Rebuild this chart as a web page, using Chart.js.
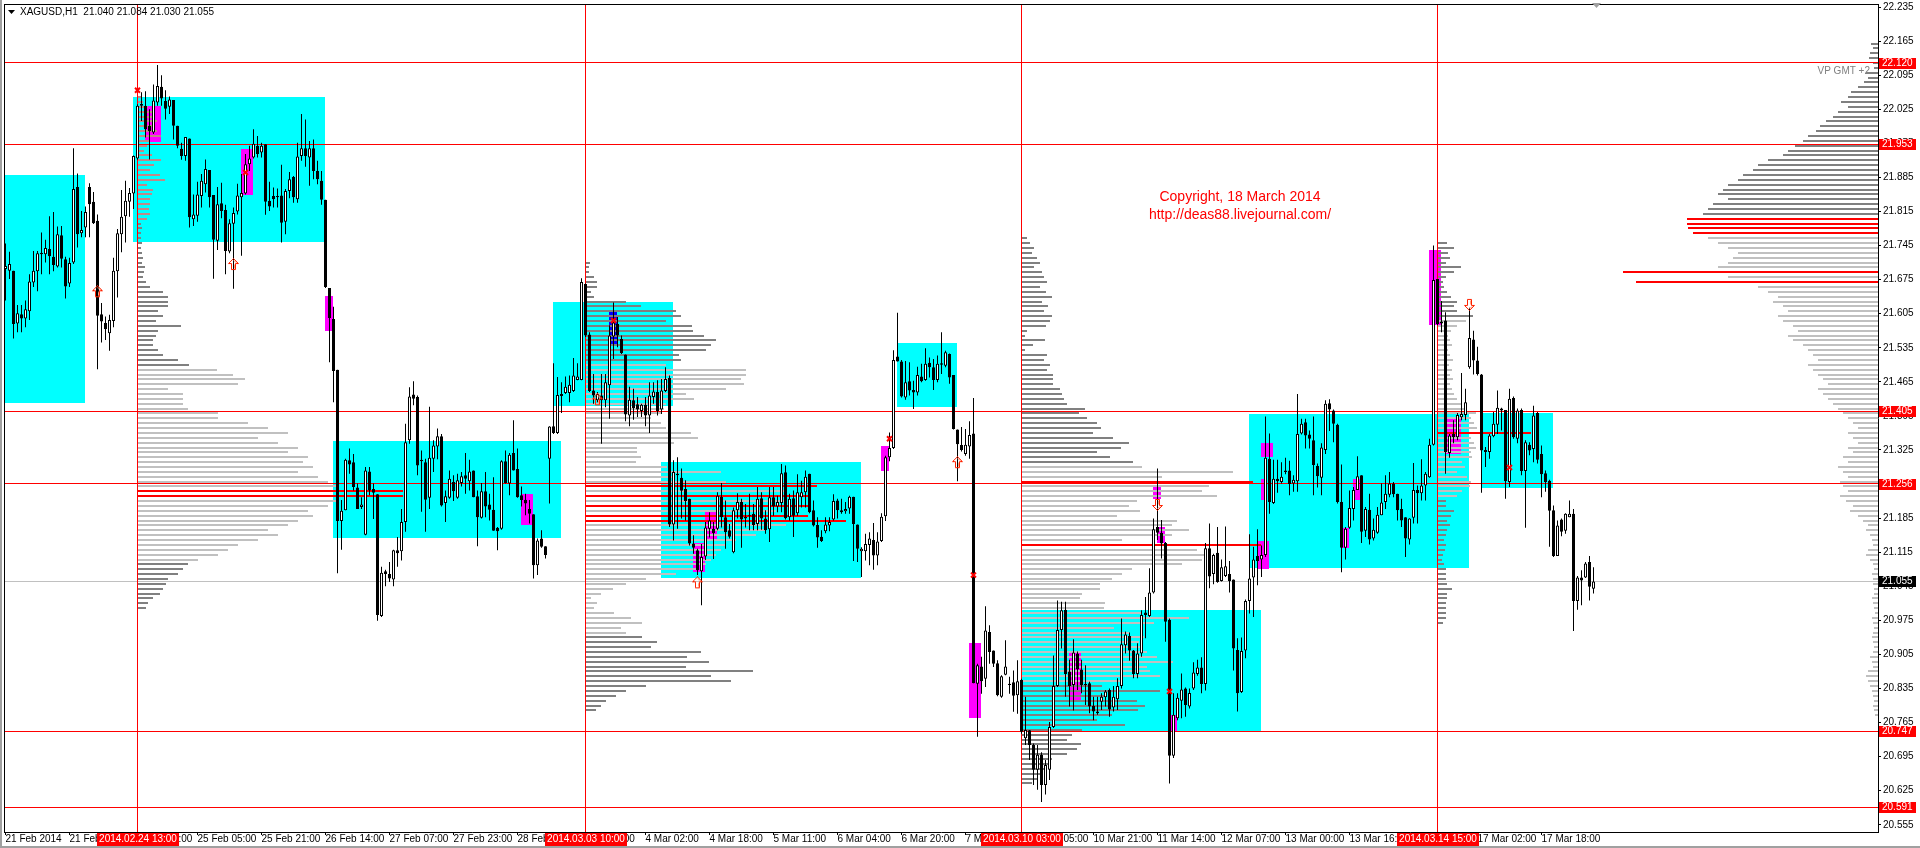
<!DOCTYPE html>
<html>
<head>
<meta charset="utf-8">
<title>XAGUSD,H1</title>
<style>
  html, body { margin: 0; padding: 0; background: #fff; }
  #wrap { width: 1920px; height: 848px; }
</style>
<script src="https://cdn.jsdelivr.net/npm/chart.js@4.4.1/dist/chart.umd.min.js"></script>
</head>
<body>
<div id="wrap"><canvas id="chart" width="1920" height="848"></canvas></div>
<script>
/* ------------------------------------------------------------
   DATA  (XAGUSD H1, 21 Feb - 18 Mar 2014, one entry per bar)
------------------------------------------------------------ */
const opens = [
  21.697,21.693,21.693,21.585,21.604,21.595,21.610,21.669,21.692,21.730,
  21.727,21.738,21.722,21.702,21.766,21.717,21.667,21.710,21.865,21.770,
  21.782,21.865,21.835,21.796,21.604,21.586,21.565,21.590,21.692,21.768,
  21.805,21.835,21.852,21.924,22.032,22.032,21.991,21.977,22.039,22.071,
  22.042,22.030,22.044,21.991,21.944,21.929,21.965,21.799,21.806,21.847,
  21.871,21.900,21.849,21.755,21.832,21.818,21.733,21.790,21.815,21.844,
  21.852,21.912,21.926,21.950,21.936,21.953,21.837,21.847,21.847,21.848,
  21.794,21.857,21.886,21.840,21.929,21.945,21.926,21.945,21.898,21.878,
  21.839,21.658,21.594,21.490,21.179,21.201,21.304,21.300,21.248,21.208,
  21.151,21.281,21.245,21.234,20.984,21.076,21.070,21.059,21.119,21.117,
  21.177,21.345,21.439,21.434,21.305,21.300,21.227,21.307,21.332,21.353,
  21.216,21.227,21.259,21.227,21.257,21.273,21.261,21.283,21.230,21.186,
  21.240,21.213,21.202,21.165,21.163,21.302,21.256,21.319,21.286,21.232,
  21.223,21.204,21.193,21.088,21.143,21.127,21.307,21.374,21.360,21.440,
  21.442,21.442,21.446,21.469,21.469,21.666,21.562,21.447,21.427,21.437,
  21.427,21.458,21.558,21.584,21.553,21.521,21.396,21.427,21.419,21.405,
  21.418,21.396,21.434,21.444,21.408,21.446,21.473,21.172,21.276,21.268,
  21.245,21.225,21.133,21.119,21.076,21.106,21.163,21.163,21.163,21.229,
  21.187,21.160,21.115,21.201,21.218,21.184,21.190,21.194,21.173,21.226,
  21.184,21.162,21.228,21.209,21.216,21.279,21.187,21.226,21.195,21.228,
  21.238,21.276,21.201,21.171,21.147,21.158,21.170,21.182,21.221,21.201,
  21.199,21.205,21.229,21.172,21.117,21.117,21.130,21.140,21.108,21.138,
  21.189,21.310,21.329,21.517,21.507,21.433,21.466,21.448,21.443,21.476,
  21.469,21.504,21.495,21.469,21.503,21.498,21.522,21.479,21.367,21.335,
  21.317,21.332,21.359,20.845,20.880,20.855,20.951,20.913,20.887,20.818,
  20.863,20.845,20.848,20.821,20.853,20.733,20.749,20.719,20.668,20.699,
  20.637,20.668,20.756,20.840,20.955,20.997,20.870,20.842,20.907,20.874,
  20.844,20.846,20.799,20.788,20.808,20.817,20.832,20.796,20.813,20.840,
  20.924,20.943,20.913,20.865,20.907,20.991,20.984,21.032,21.167,21.155,
  21.134,20.976,20.697,20.774,20.810,20.835,20.798,20.835,20.865,20.878,
  20.844,21.123,21.070,21.114,21.056,21.066,21.070,21.059,20.914,20.828,
  20.913,21.015,21.063,21.107,21.100,21.109,21.307,21.216,21.266,21.259,
  21.283,21.283,21.256,21.261,21.359,21.382,21.357,21.345,21.292,21.268,
  21.325,21.421,21.406,21.377,21.218,21.124,21.165,21.204,21.243,21.273,
  21.159,21.202,21.143,21.155,21.191,21.218,21.233,21.256,21.235,21.204,
  21.187,21.141,21.186,21.243,21.236,21.252,21.269,21.336,21.676,21.589,
  21.591,21.319,21.358,21.351,21.392,21.397,21.495,21.552,21.509,21.480,
  21.325,21.321,21.353,21.377,21.410,21.407,21.259,21.432,21.348,21.407,
  21.282,21.336,21.327,21.401,21.317,21.277,21.262,21.201,21.107,21.182,
  21.159,21.187,21.194,21.015,21.063,21.063,21.095,21.040
];
const highs = [
  21.749,21.732,21.693,21.623,21.623,21.632,21.686,21.734,21.734,21.772,
  21.757,21.805,21.814,21.784,21.785,21.722,21.720,21.945,21.893,21.816,
  21.825,21.873,21.855,21.809,21.627,21.599,21.603,21.720,21.779,21.859,
  21.878,21.863,21.930,22.035,22.060,22.062,22.025,22.076,22.116,22.095,
  22.064,22.051,22.044,21.991,21.956,21.968,21.965,21.850,21.876,21.892,
  21.922,21.900,21.849,21.865,21.874,21.829,21.799,21.823,21.872,21.892,
  21.933,21.950,21.984,21.970,21.956,21.953,21.876,21.864,21.862,21.911,
  21.861,21.896,21.888,21.956,22.015,22.004,21.960,21.963,21.919,21.898,
  21.839,21.658,21.619,21.490,21.222,21.307,21.328,21.317,21.256,21.228,
  21.290,21.290,21.256,21.234,21.085,21.079,21.095,21.120,21.146,21.204,
  21.379,21.454,21.466,21.437,21.324,21.307,21.414,21.345,21.369,21.358,
  21.242,21.283,21.273,21.276,21.280,21.319,21.305,21.283,21.242,21.257,
  21.280,21.235,21.269,21.167,21.304,21.324,21.319,21.386,21.328,21.250,
  21.235,21.222,21.193,21.143,21.160,21.127,21.374,21.503,21.475,21.464,
  21.476,21.478,21.514,21.503,21.678,21.667,21.567,21.481,21.444,21.481,
  21.481,21.581,21.628,21.598,21.560,21.521,21.455,21.451,21.434,21.420,
  21.434,21.464,21.464,21.468,21.471,21.495,21.478,21.304,21.310,21.287,
  21.263,21.225,21.150,21.122,21.132,21.177,21.197,21.177,21.238,21.257,
  21.221,21.173,21.207,21.236,21.225,21.214,21.235,21.214,21.249,21.238,
  21.201,21.249,21.249,21.231,21.296,21.293,21.235,21.242,21.275,21.262,
  21.283,21.276,21.221,21.187,21.160,21.187,21.187,21.234,21.225,21.225,
  21.218,21.231,21.229,21.172,21.125,21.153,21.156,21.175,21.156,21.195,
  21.313,21.361,21.530,21.607,21.510,21.508,21.505,21.467,21.496,21.502,
  21.534,21.515,21.512,21.519,21.567,21.529,21.523,21.479,21.367,21.372,
  21.368,21.384,21.432,20.886,20.900,21.004,20.965,20.913,20.893,20.862,
  20.934,20.859,20.872,20.893,20.855,20.818,20.750,20.722,20.719,20.704,
  20.688,20.766,20.903,21.016,21.013,21.013,20.894,20.936,20.911,20.894,
  20.883,20.849,20.818,20.818,20.825,20.832,20.835,20.840,20.856,20.979,
  20.952,20.950,20.914,20.928,20.996,21.023,21.082,21.184,21.287,21.181,
  21.136,20.979,20.825,20.825,20.866,20.837,20.835,20.889,20.894,20.899,
  21.134,21.174,21.112,21.167,21.100,21.168,21.097,21.059,20.938,20.940,
  21.018,21.152,21.126,21.162,21.129,21.394,21.359,21.305,21.305,21.300,
  21.309,21.303,21.273,21.440,21.389,21.389,21.365,21.394,21.297,21.339,
  21.427,21.429,21.408,21.379,21.295,21.167,21.242,21.249,21.312,21.273,
  21.208,21.235,21.184,21.208,21.256,21.273,21.280,21.259,21.235,21.225,
  21.187,21.185,21.298,21.252,21.306,21.280,21.348,21.745,21.676,21.631,
  21.608,21.358,21.386,21.401,21.483,21.451,21.617,21.570,21.537,21.481,
  21.331,21.358,21.403,21.447,21.412,21.407,21.451,21.435,21.410,21.410,
  21.345,21.341,21.416,21.403,21.334,21.283,21.264,21.211,21.180,21.184,
  21.195,21.221,21.204,21.066,21.078,21.095,21.107,21.084
];
const lows = [
  21.632,21.676,21.554,21.567,21.567,21.577,21.592,21.660,21.651,21.686,
  21.710,21.686,21.692,21.700,21.700,21.636,21.660,21.707,21.741,21.762,
  21.762,21.762,21.789,21.491,21.546,21.551,21.529,21.577,21.638,21.731,
  21.751,21.804,21.820,21.921,22.001,21.967,21.922,21.974,22.032,22.032,
  22.004,22.015,21.963,21.945,21.921,21.919,21.782,21.785,21.794,21.823,
  21.854,21.823,21.677,21.736,21.801,21.686,21.729,21.656,21.809,21.724,
  21.850,21.898,21.924,21.926,21.926,21.808,21.816,21.823,21.823,21.751,
  21.768,21.842,21.833,21.833,21.919,21.907,21.868,21.881,21.871,21.829,
  21.658,21.505,21.423,21.072,21.120,21.201,21.276,21.242,21.204,21.204,
  21.150,21.232,21.183,20.974,20.982,21.045,21.054,21.045,21.085,21.098,
  21.157,21.338,21.417,21.273,21.198,21.157,21.204,21.280,21.306,21.209,
  21.177,21.225,21.220,21.225,21.250,21.235,21.242,21.228,21.127,21.184,
  21.187,21.180,21.159,21.119,21.161,21.256,21.232,21.283,21.227,21.209,
  21.191,21.174,21.061,21.068,21.124,21.102,21.215,21.358,21.358,21.401,
  21.440,21.423,21.444,21.468,21.468,21.557,21.444,21.420,21.423,21.338,
  21.413,21.389,21.512,21.536,21.522,21.384,21.374,21.387,21.393,21.393,
  21.374,21.360,21.420,21.396,21.399,21.444,21.167,21.139,21.163,21.184,
  21.180,21.129,21.112,21.068,21.006,21.099,21.145,21.101,21.160,21.166,
  21.122,21.143,21.113,21.184,21.124,21.166,21.160,21.160,21.160,21.161,
  21.153,21.136,21.190,21.197,21.197,21.182,21.180,21.146,21.190,21.207,
  21.207,21.195,21.168,21.124,21.136,21.154,21.158,21.180,21.184,21.194,
  21.194,21.194,21.097,21.095,21.064,21.098,21.088,21.079,21.088,21.136,
  21.179,21.302,21.327,21.507,21.433,21.428,21.437,21.409,21.437,21.464,
  21.467,21.474,21.448,21.464,21.481,21.495,21.461,21.367,21.261,21.322,
  21.313,21.307,20.846,20.736,20.824,20.838,20.886,20.879,20.819,20.816,
  20.862,20.824,20.787,20.783,20.742,20.719,20.688,20.637,20.627,20.602,
  20.617,20.647,20.754,20.838,20.917,20.818,20.798,20.790,20.832,20.825,
  20.801,20.784,20.770,20.781,20.791,20.798,20.777,20.788,20.791,20.835,
  20.907,20.892,20.856,20.856,20.900,20.938,20.982,21.030,21.140,21.102,
  20.931,20.640,20.692,20.770,20.774,20.777,20.794,20.832,20.861,20.825,
  20.831,21.041,21.049,21.052,21.055,21.064,21.032,20.872,20.788,20.826,
  20.897,20.989,20.982,21.047,21.064,21.105,21.194,21.214,21.237,21.256,
  21.275,21.232,21.239,21.239,21.357,21.328,21.328,21.232,21.248,21.232,
  21.317,21.364,21.341,21.215,21.074,21.100,21.163,21.180,21.243,21.134,
  21.146,21.131,21.139,21.153,21.191,21.204,21.228,21.228,21.180,21.167,
  21.105,21.131,21.174,21.174,21.221,21.221,21.268,21.334,21.581,21.567,
  21.276,21.309,21.339,21.345,21.386,21.386,21.492,21.480,21.478,21.237,
  21.290,21.307,21.351,21.358,21.365,21.225,21.249,21.348,21.339,21.273,
  21.165,21.314,21.300,21.297,21.228,21.239,21.126,21.105,21.107,21.148,
  21.153,21.187,20.953,20.997,21.006,21.062,21.016,21.030
];
const closes = [
  21.703,21.707,21.584,21.606,21.595,21.614,21.671,21.693,21.729,21.727,
  21.740,21.723,21.705,21.768,21.718,21.661,21.709,21.861,21.768,21.777,
  21.814,21.830,21.791,21.601,21.589,21.573,21.592,21.693,21.770,21.804,
  21.837,21.853,21.929,22.032,22.036,21.984,21.980,22.043,22.073,22.047,
  22.026,22.045,21.991,21.950,21.929,21.968,21.803,21.809,21.850,21.878,
  21.902,21.844,21.757,21.830,21.816,21.734,21.791,21.812,21.848,21.853,
  21.912,21.924,21.954,21.933,21.950,21.835,21.825,21.840,21.844,21.792,
  21.857,21.881,21.844,21.928,21.945,21.929,21.945,21.898,21.881,21.839,
  21.660,21.596,21.487,21.179,21.200,21.305,21.295,21.249,21.204,21.213,
  21.283,21.242,21.237,20.986,21.073,21.070,21.061,21.119,21.113,21.177,
  21.341,21.435,21.430,21.293,21.302,21.223,21.309,21.334,21.353,21.211,
  21.230,21.266,21.240,21.263,21.271,21.266,21.281,21.228,21.187,21.240,
  21.209,21.202,21.159,21.158,21.302,21.257,21.315,21.283,21.228,21.222,
  21.215,21.194,21.088,21.139,21.126,21.109,21.373,21.360,21.438,21.436,
  21.455,21.459,21.478,21.476,21.670,21.560,21.446,21.437,21.440,21.427,
  21.464,21.560,21.587,21.560,21.524,21.398,21.428,21.411,21.408,21.418,
  21.396,21.437,21.445,21.405,21.447,21.471,21.172,21.280,21.273,21.241,
  21.220,21.133,21.124,21.078,21.105,21.166,21.180,21.154,21.231,21.187,
  21.156,21.147,21.201,21.218,21.182,21.188,21.192,21.171,21.225,21.184,
  21.160,21.228,21.209,21.218,21.277,21.185,21.225,21.190,21.238,21.238,
  21.270,21.197,21.170,21.145,21.138,21.172,21.177,21.220,21.201,21.197,
  21.204,21.229,21.173,21.122,21.122,21.132,21.143,21.108,21.137,21.188,
  21.310,21.329,21.510,21.507,21.435,21.464,21.447,21.443,21.479,21.466,
  21.502,21.495,21.469,21.502,21.500,21.526,21.474,21.368,21.337,21.325,
  21.336,21.356,20.846,20.883,20.850,20.954,20.910,20.886,20.821,20.860,
  20.880,20.842,20.820,20.850,20.746,20.750,20.719,20.668,20.699,20.637,
  20.678,20.756,20.840,20.955,20.996,20.865,20.840,20.909,20.874,20.842,
  20.842,20.798,20.788,20.784,20.818,20.829,20.792,20.818,20.840,20.926,
  20.946,20.913,20.865,20.907,20.986,20.986,21.032,21.162,21.155,21.133,
  20.972,20.697,20.781,20.816,20.833,20.801,20.826,20.868,20.878,20.844,
  21.123,21.065,21.109,21.054,21.084,21.086,21.056,20.917,20.825,20.912,
  21.015,21.061,21.100,21.097,21.109,21.309,21.218,21.266,21.261,21.270,
  21.280,21.255,21.264,21.358,21.379,21.355,21.348,21.294,21.271,21.330,
  21.420,21.408,21.379,21.218,21.124,21.163,21.206,21.243,21.271,21.157,
  21.204,21.141,21.161,21.192,21.217,21.235,21.256,21.234,21.201,21.180,
  21.143,21.184,21.243,21.236,21.252,21.276,21.336,21.674,21.584,21.585,
  21.321,21.355,21.351,21.397,21.399,21.423,21.555,21.509,21.481,21.324,
  21.321,21.355,21.379,21.412,21.406,21.261,21.430,21.351,21.406,21.282,
  21.341,21.324,21.396,21.305,21.275,21.259,21.200,21.107,21.170,21.157,
  21.194,21.194,21.015,21.063,21.057,21.092,21.044,21.055
];

// time axis: a label every 16 bars
const timeTickBars = [0,16,32,48,64,80,96,112,128,144,160,176,192,208,224,240,256,272,288,304,320,336,352,368,384];
const timeTickLabels = [
  '21 Feb 2014','21 Feb 16:00','24 Feb 12:00','25 Feb 05:00','25 Feb 21:00','26 Feb 14:00',
  '27 Feb 07:00','27 Feb 23:00','28 Feb 16:00','3 Mar 09:00','4 Mar 02:00','4 Mar 18:00',
  '5 Mar 11:00','6 Mar 04:00','6 Mar 20:00','7 Mar 13:00','10 Mar 05:00','10 Mar 21:00',
  '11 Mar 14:00','12 Mar 07:00','13 Mar 00:00','13 Mar 16:00','14 Mar 09:00','17 Mar 02:00','17 Mar 18:00'
];
const priceTicks = [22.235,22.165,22.095,22.025,21.955,21.885,21.815,21.745,21.675,21.605,21.535,21.465,
  21.395,21.325,21.255,21.185,21.115,21.045,20.975,20.905,20.835,20.765,20.695,20.625,20.555];

// levels (horizontal lines), session markers (vertical lines)
const levelPrices = [22.120, 21.953, 21.405, 21.256, 20.747, 20.591];
const lastPrice = 21.055;
const sessionBars = [33, 145, 254, 358];
const sessionLabels = ['2014.02.24 13:00', '2014.03.03 10:00', '2014.03.10 03:00', '2014.03.14 15:00'];

// rectangles: [from bar, to bar, high, low]
const cyanBoxes = [
  [-1, 20, 21.890, 21.421], [32, 80, 22.050, 21.752], [82, 139, 21.343, 21.144],
  [137, 167, 21.630, 21.415], [164, 214, 21.300, 21.062], [223, 238, 21.544, 21.414],
  [254, 314, 20.996, 20.748], [311, 366, 21.398, 21.083], [369, 387, 21.401, 21.247]
];
const magentaBoxes = [
  [35, 39, 22.032, 21.958], [59, 62, 21.944, 21.849], [80, 82, 21.642, 21.569],
  [129, 132, 21.235, 21.170], [172, 175, 21.133, 21.075], [175, 178, 21.198, 21.140],
  [219, 221, 21.334, 21.281], [241, 244, 20.929, 20.775], [266, 269, 20.911, 20.811],
  [287, 289, 21.252, 21.224], [288, 290, 21.167, 21.133], [291, 293, 20.781, 20.746],
  [314, 317, 21.339, 21.310], [314, 315, 21.265, 21.222], [313, 316, 21.137, 21.081],
  [337, 339, 21.265, 21.222], [334, 336, 21.164, 21.123], [356, 359, 21.736, 21.581],
  [360, 364, 21.393, 21.317]
];
const blueBoxes = [[151, 153, 21.613, 21.540]];

// signal marks: [bar, price]
const crossMarks = [[33, 22.064], [60, 21.895], [152, 21.591], [221, 21.348], [242, 21.068], [291, 20.829], [376, 21.289]];
const upArrows = [[23, 21.650], [57, 21.706], [148, 21.428], [173, 21.052], [238, 21.299]];
const downArrows = [[288, 21.213], [366, 21.624]];

// volume profiles, one row per 0.01 from the top price down
const vpStep = 0.01;
const vp1Start = 33, vp1Top = 22.05;
const vp1Vol = [
  4,5,10,14,16,19,17,19,23,12, 9,6,14,23,16,12,22,27,9,15,
  14,12,12,11,12,9,3,4,3,3, 4,3,4,5,4,7,6,5,8,12,
  25,30,30,30,20,25,18,43,20,18, 15,15,20,25,40,51,79,95,107,100,
  30,45,45,45,50,80,80,110,130,150, 120,140,160,150,170,165,175,160,180,190,
  200,265,265,200,190,170,175,160,150,130, 140,120,100,90,80,60,50,45,40,30,
  28,25,22,15,10,8
];
const vp1Area = [21.10, 21.49];
const vp1Poc = [21.24, 21.23];
const vp1Tint = [21.80, 22.05];   // rows shaded reddish inside the first box

const vp2Start = 145, vp2Top = 21.71;
const vp2Vol = [
  4,3,3,8,11,11,5,8,40,55, 90,95,80,106,107,118,130,125,120,93,
  95,80,160,160,155,158,140,100,108,80, 78,75,65,75,80,105,112,88,51,51,
  55,50,81,135,88,140,231,200,222,200, 222,190,222,260,200,180,170,150,140,135,
  130,125,120,110,90,60,40,27,15,5, 11,8,28,45,56,35,40,56,71,65,
  115,101,123,100,167,125,145,60,40,30, 20,15,10
];
const vp2Area = [20.95, 21.50];
const vp2Poc = [21.25, 21.23, 21.21, 21.19, 21.18];

const vp3Start = 254, vp3Top = 21.76;
const vp3Vol = [
  5,8,12,10,15,18,12,20,22,25, 18,24,30,20,26,22,30,28,24,5,
  3,23,11,3,25,22,28,25,31,31, 31,38,40,42,45,63,57,65,75,79,
  71,91,107,99,75,88,111,120,211,140, 231,187,180,195,115,107,118,95,155,150,
  167,150,100,239,175,185,180,160,110,100, 90,78,78,60,58,83,82,120,167,132,
  92,107,122,117,119,125,135,151,125,128, 138,100,80,138,85,115,123,116,90,75,
  103,60,50,45,59,55,45,30,28,25, 20,15,10
];
const vp3Area = [20.85, 21.29];
const vp3Poc = [21.26, 21.13];

const vp4Start = 358, vp4Top = 21.75;
const vp4Vol = [
  9,16,10,12,8,23,16,8,5,6, 9,13,19,16,19,35,28,19,13,10,
  12,14,10,12,15,11,14,12,15,12, 14,16,19,23,29,38,33,36,39,93,
  33,36,38,33,34,24,27,19,29,33, 32,24,19,8,8,16,13,9,12,9,
  8,6,8,7,5,4,6,8,8,8, 9,14,9,9,8,8,8,8,5
];
const vp4Area = [21.225, 21.595];
const vp4Poc = [21.36];

// session profile anchored on the price axis
const vp5Top = 22.16;
const vp5Vol = [
  7,5,8,9,5,4,12,10,14,20, 27,30,37,30,40,45,52,58,62,70,
  75,83,90,95,110,120,125,135,140,150, 155,160,150,165,170,175,191,191,190,185,
  170,160,150,140,145,150,160,255,150,242, 120,110,100,105,95,90,100,95,85,80,
  90,85,75,70,65,60,70,65,60,55, 50,60,55,50,45,40,35,30,25,20,
  30,25,20,30,25,35,30,40,35,30, 38,35,30,38,32,25,28,20,15,10,
  12,8,6,5,10,12,8,5,4,6, 5,5,4,4,6,5,4,3,6,5,
  4,5,6,5,4,5,8,6,5,10, 12,10,8,6,5,4,5,4,3
];
const vp5Area = [20.70, 21.765];
const vp5Poc = [21.80, 21.79, 21.78, 21.77, 21.69, 21.67];

/* ------------------------------------------------------------
   HELPERS
------------------------------------------------------------ */
const FONT = "'Liberation Sans', Arial, sans-serif";
const VOL_PER_BAR = 4;   // profile volume units per bar width
const barIdx = opens.map((_, i) => i);

const profiles = [
    { start: vp1Start, top: vp1Top, vol: vp1Vol, area: vp1Area, poc: vp1Poc, tint: vp1Tint },
    { start: vp2Start, top: vp2Top, vol: vp2Vol, area: vp2Area, poc: vp2Poc },
    { start: vp3Start, top: vp3Top, vol: vp3Vol, area: vp3Area, poc: vp3Poc },
    { start: vp4Start, top: vp4Top, vol: vp4Vol, area: vp4Area, poc: vp4Poc },
    { start: null, top: vp5Top, vol: vp5Vol, area: vp5Area, poc: vp5Poc },
];

function arrowImage(up) {
    const c = document.createElement('canvas');
    c.width = 11; c.height = 13;
    const g = c.getContext('2d');
    g.translate(0.5, 0.5);
    if (!up) { g.translate(0, 12); g.scale(1, -1); }
    g.beginPath();
    g.moveTo(5, 0); g.lineTo(10, 5); g.lineTo(7, 5); g.lineTo(7, 11);
    g.lineTo(3, 11); g.lineTo(3, 5); g.lineTo(0, 5); g.closePath();
    g.strokeStyle = '#ff2200'; g.lineWidth = 1; g.stroke();
    g.beginPath();
    g.moveTo(5, 2); g.lineTo(8, 4); g.moveTo(6, 6); g.lineTo(6, 10);
    g.strokeStyle = '#ffa080'; g.stroke();
    return c;
}

function rowColor(pr, p) {
    const eps = 1e-6;
    if (pr.poc.some(q => Math.abs(q - p) < eps)) return '#ff0000';
    if (pr.tint && p >= pr.tint[0] - eps && p <= pr.tint[1] + eps) return '#c08888';
    return (p >= pr.area[0] - eps && p <= pr.area[1] + eps) ? '#c0c0c0' : '#808080';
}

/* ------------------------------------------------------------
   BACKGROUND OBJECTS (boxes, profiles, levels) under the candles
------------------------------------------------------------ */
const backdrop = {
    id: 'backdrop',
    beforeDatasetsDraw(chart) {
        const { ctx, chartArea: a, scales: { x, y } } = chart;
        ctx.save();
        ctx.beginPath();
        ctx.rect(a.left, a.top, a.right - a.left, a.bottom - a.top);
        ctx.clip();

        // MT4 rectangles start half a pixel left of the bar centre
        const box = (b, color) => {
            const x0 = Math.round(x.getPixelForValue(b[0] - 0.125));
            const x1 = Math.round(x.getPixelForValue(b[1] - 0.125));
            const y0 = Math.round(y.getPixelForValue(b[2]));
            const y1 = Math.round(y.getPixelForValue(b[3]));
            ctx.fillStyle = color;
            ctx.fillRect(x0, y0, x1 - x0, y1 - y0);
        };
        cyanBoxes.forEach(b => box(b, '#00ffff'));
        magentaBoxes.forEach(b => box(b, '#ff00ff'));
        blueBoxes.forEach(b => box(b, '#0000ff'));

        // volume profiles
        profiles.forEach(pr => {
            pr.vol.forEach((v, k) => {
                const p = Math.round((pr.top - k * vpStep) * 1000) / 1000;
                const yy = Math.round(y.getPixelForValue(p)) - 1;
                let x0, x1;
                if (pr.start === null) {
                    x1 = a.right;
                    x0 = Math.round(x.getPixelForValue(x.max - v / VOL_PER_BAR));
                } else {
                    x0 = Math.round(x.getPixelForValue(pr.start));
                    x1 = Math.round(x.getPixelForValue(pr.start + v / VOL_PER_BAR));
                }
                ctx.fillStyle = rowColor(pr, p);
                ctx.fillRect(x0, yy, x1 - x0, 2);
            });
        });

        // bid line
        ctx.fillStyle = '#c0c0c0';
        ctx.fillRect(a.left, Math.round(y.getPixelForValue(lastPrice) - 0.5), a.right - a.left, 1);

        // horizontal levels
        ctx.fillStyle = '#ff0000';
        levelPrices.forEach(p => {
            ctx.fillRect(a.left, Math.round(y.getPixelForValue(p) - 0.5), a.right - a.left, 1);
        });
        // vertical session lines
        sessionBars.forEach(b => {
            ctx.fillRect(Math.round(x.getPixelForValue(b) - 0.5), a.top, 1, a.bottom - a.top);
        });
        ctx.restore();
    }
};

/* ------------------------------------------------------------
   FOREGROUND (frame, captions, axis flags)
------------------------------------------------------------ */
const overlay = {
    id: 'overlay',
    afterDraw(chart) {
        const { ctx, chartArea: a, scales: { x, y } } = chart;
        ctx.save();

        // window edges and chart frame
        ctx.fillStyle = '#a0a0a0';
        ctx.fillRect(0, 0, 2, 848);
        ctx.fillRect(0, 846, 1920, 2);
        ctx.fillStyle = '#000';
        ctx.fillRect(a.left, a.top, a.right - a.left, 1);
        ctx.fillRect(a.left, a.top, 1, a.bottom - a.top);

        // header
        ctx.beginPath();
        ctx.moveTo(8, 10); ctx.lineTo(15, 10); ctx.lineTo(11.5, 14); ctx.closePath();
        ctx.fill();
        ctx.font = '10px ' + FONT;
        ctx.textBaseline = 'middle';
        ctx.textAlign = 'left';
        const last = opens.length - 1;
        ctx.fillText('XAGUSD,H1  ' + [opens[last], highs[last], lows[last], closes[last]].map(v => v.toFixed(3)).join(' '), 20, 12);

        // chart shift marker
        ctx.fillStyle = '#a0a0a0';
        ctx.beginPath();
        ctx.moveTo(1592, 3); ctx.lineTo(1601, 3); ctx.lineTo(1596.5, 8); ctx.closePath();
        ctx.fill();

        // text labels on the chart
        ctx.fillStyle = '#ff0000';
        ctx.font = '14px ' + FONT;
        ctx.textAlign = 'center';
        ctx.fillText('Copyright, 18 March 2014', 1240, 197);
        ctx.fillText('http://deas88.livejournal.com/', 1240, 215);
        ctx.fillStyle = '#808080';
        ctx.font = '10px ' + FONT;
        ctx.textAlign = 'right';
        ctx.fillText('VP GMT +2', 1870, 71);

        // price flags on the right axis
        ctx.font = '10px ' + FONT;
        ctx.textAlign = 'left';
        const flag = (p, bg) => {
            const yy = Math.round(y.getPixelForValue(p));
            ctx.fillStyle = bg;
            ctx.fillRect(a.right + 1, yy - 5, 37, 11);
            ctx.fillStyle = '#fff';
            ctx.fillText(p.toFixed(3), a.right + 4, yy + 0.5);
        };
        levelPrices.forEach(p => flag(p, '#ff0000'));
        flag(lastPrice, '#000');

        // time flags on the bottom axis
        ctx.textAlign = 'center';
        sessionBars.forEach((b, k) => {
            const xx = Math.round(x.getPixelForValue(b));
            const w = ctx.measureText(sessionLabels[k]).width + 4;
            ctx.fillStyle = '#ff0000';
            ctx.fillRect(Math.round(xx - w / 2), a.bottom + 1, Math.round(w), 13);
            ctx.fillStyle = '#fff';
            ctx.fillText(sessionLabels[k], xx, a.bottom + 7.5);
        });
        ctx.restore();
    }
};

/* ------------------------------------------------------------
   CHART
------------------------------------------------------------ */
Chart.defaults.font.family = FONT;
Chart.defaults.font.size = 10;
Chart.defaults.color = '#000';

const upArrowImg = arrowImage(true);
const downArrowImg = arrowImage(false);

new Chart(document.getElementById('chart'), {
    type: 'bar',
    data: {
        datasets: [
            {
                label: 'marks',
                type: 'scatter',
                data: crossMarks.map(m => ({ x: m[0], y: m[1] })),
                pointStyle: 'crossRot',
                pointRadius: 3.5,
                borderColor: '#ff0000',
                borderWidth: 2,
                order: -2,
            },
            {
                label: 'up',
                type: 'scatter',
                data: upArrows.map(m => ({ x: m[0], y: m[1] })),
                pointStyle: upArrowImg,
                order: -1,
            },
            {
                label: 'down',
                type: 'scatter',
                data: downArrows.map(m => ({ x: m[0], y: m[1] })),
                pointStyle: downArrowImg,
                order: -1,
            },
            {
                label: 'body',
                data: barIdx.map(i => ({ x: i, y: [Math.min(opens[i], closes[i]), Math.max(opens[i], closes[i])] })),
                backgroundColor: barIdx.map(i => closes[i] >= opens[i] ? '#ffffff' : '#000000'),
                borderColor: '#000',
                borderWidth: 1,
                borderSkipped: false,
                barThickness: 3,
                maxBarThickness: 3,
                minBarLength: 1,
                inflateAmount: 0,
                grouped: false,
                order: 1,
            },
            {
                label: 'wick',
                data: barIdx.map(i => ({ x: i, y: [lows[i], highs[i]] })),
                backgroundColor: '#000',
                borderWidth: 0,
                barThickness: 1,
                maxBarThickness: 1,
                minBarLength: 1,
                inflateAmount: 0,
                grouped: false,
                order: 2,
            },
        ],
    },
    options: {
        responsive: false,
        animation: false,
        events: [],
        devicePixelRatio: 1,
        layout: { autoPadding: false, padding: { left: 4, top: 4, right: 0, bottom: 0 } },
        plugins: { legend: { display: false }, tooltip: { enabled: false } },
        scales: {
            x: {
                type: 'linear',
                offset: false,
                bounds: 'data',
                min: -0.375,
                max: 468.125,
                afterBuildTicks: s => { s.ticks = timeTickBars.map(v => ({ value: v })); },
                afterFit: s => { s.height = 16; s.paddingLeft = 0; s.paddingRight = 0; },
                grid: { drawOnChartArea: false, offset: false, tickLength: 3, tickColor: '#000' },
                border: { color: '#000' },
                ticks: {
                    autoSkip: false, maxRotation: 0, minRotation: 0, align: 'start', padding: -2,
                    color: '#000',
                    callback: (v, i) => timeTickLabels[i],
                },
            },
            y: {
                type: 'linear',
                position: 'right',
                bounds: 'data',
                min: 20.5402,
                max: 22.2412,
                afterBuildTicks: s => { s.ticks = priceTicks.map(v => ({ value: v })); },
                afterFit: s => { s.width = 42; s.paddingTop = 0; s.paddingBottom = 0; },
                grid: { drawOnChartArea: false, tickLength: 3, tickColor: '#000' },
                border: { color: '#000' },
                ticks: { autoSkip: false, padding: 2, color: '#000', callback: v => v.toFixed(3) },
            },
        },
    },
    plugins: [backdrop, overlay],
});
</script>
</body>
</html>
